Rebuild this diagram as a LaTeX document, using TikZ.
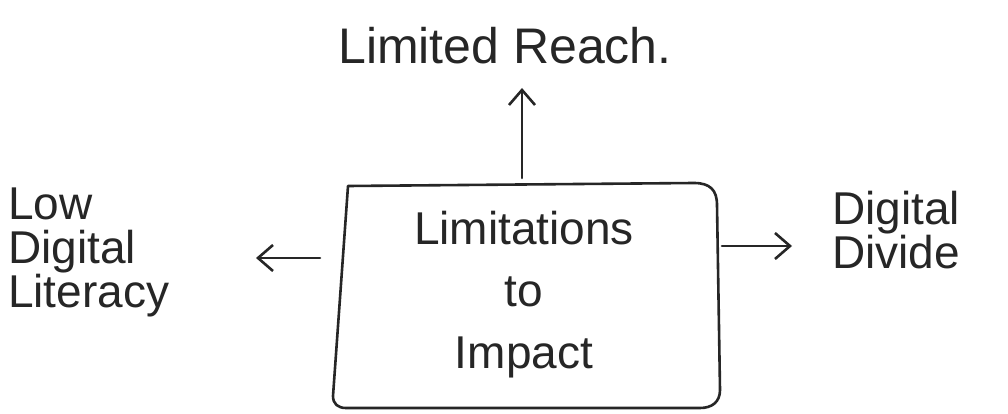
\documentclass[tikz,border=0pt]{standalone}
\usepackage{fontspec}
\setmainfont{Liberation Sans}
\usetikzlibrary{arrows.meta}
\begin{document}
\begin{tikzpicture}[x=1pt,y=-1pt,
  ink/.style={draw=black!85, line width=2.6pt, line cap=round, line join=round},
  hand/.style={text=black!85, inner sep=0pt},
  arr/.style={ink, -{Straight Barb[length=15pt,width=26pt,line width=2.6pt]}}]
  \useasboundingbox[fill=white] (0,0) rectangle (1008,414);

  % central box, square on the left, rounded on the right
  \draw[ink] (348,186) -- (694,183)
        .. controls (710,183) and (717,190) .. (717,205)
        -- (720,390)
        .. controls (720,402) and (712,408) .. (700,408)
        -- (346,408)
        .. controls (338,408) and (333,404) .. (333,396)
        -- cycle;
  \node[hand, align=center, font=\fontsize{46}{62}\selectfont] (core) at (524,295)
        {Limitations\\to\\Impact};

  % outer labels
  \node[hand, font=\fontsize{50}{60}\selectfont] (reach) at (505,46) {Limited Reach.};
  \node[hand, align=left, anchor=west, font=\fontsize{46}{44}\selectfont] (lit) at (8,252)
        {Low\\Digital\\Literacy};
  \node[hand, align=left, anchor=west, font=\fontsize{46}{44}\selectfont] (div) at (832,230)
        {Digital\\Divide};

  % connectors
  \coordinate (upS) at (522,178);
  \coordinate (upE) at (522,88);
  \draw[arr] (upS) -- (upE);
  \coordinate (leftS) at (320,258);
  \coordinate (leftE) at (256,258);
  \draw[arr] (leftS) -- (leftE);
  \coordinate (rightS) at (722,246);
  \coordinate (rightE) at (792,246);
  \draw[arr] (rightS) -- (rightE);
\end{tikzpicture}
\end{document}
